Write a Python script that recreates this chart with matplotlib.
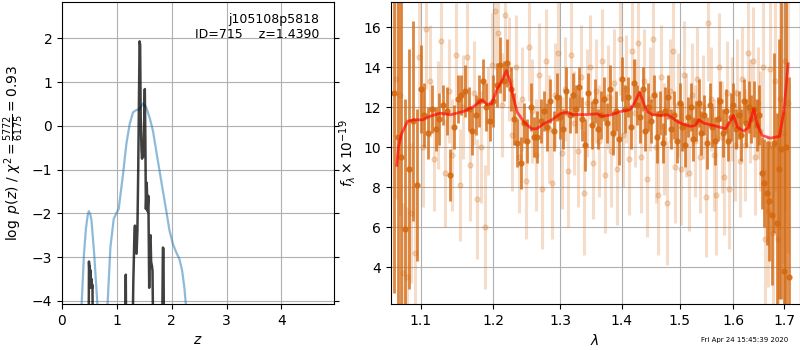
import matplotlib
matplotlib.use('Agg')
import matplotlib.pyplot as plt
from matplotlib.ticker import NullLocator, FixedLocator, FixedFormatter

# --- p(z) panel data ---
# blue curve (two pieces)
blue_z1 = [0.357, 0.40, 0.436, 0.47, 0.49, 0.515, 0.538, 0.587, 0.647]
blue_p1 = [-4.10, -2.95, -2.35, -2.03, -1.95, -2.02, -2.16, -2.93, -4.10]
blue_z2 = [0.83, 0.883, 0.944, 0.99, 1.034, 1.113, 1.174, 1.234, 1.295, 1.355,
           1.416, 1.476, 1.537, 1.597, 1.658, 1.718, 1.779, 1.839, 1.90, 1.96,
           2.02, 2.08, 2.14, 2.19, 2.23, 2.26]
blue_p2 = [-4.10, -2.77, -2.12, -2.0, -1.90, -1.10, -0.41, 0.04, 0.31, 0.36,
           0.38, 0.51, 0.42, 0.19, -0.11, -0.57, -1.03, -1.48, -1.93, -2.39,
           -2.69, -2.88, -3.04, -3.30, -3.68, -4.10]

# black curve, log p(z), spiky
pz_z = [0.485, 0.492, 0.500, 0.505, 0.515, 0.520, 0.530, 0.540, 0.550, 0.556, 0.562,
        1.155, 1.163, 1.171,
        1.285, 1.300, 1.320, 1.330, 1.345, 1.360, 1.375, 1.390, 1.405, 1.415, 1.425,
        1.435, 1.450, 1.460, 1.470, 1.485, 1.500, 1.510, 1.520, 1.530, 1.545, 1.560,
        1.575, 1.590, 1.600, 1.615, 1.625, 1.640, 1.650, 1.665,
        1.825, 1.840, 1.850, 1.860]
pz_p = [-5.0, -3.10, -3.35, -3.20, -3.50, -3.30, -3.70, -3.50, -3.70, -3.64, -5.0,
        -5.0, -3.40, -5.0,
        -5.0, -3.60, -2.50, -2.28, -2.90, -2.92, -2.40, -1.00, 0.80, 1.93, 1.85,
        0.20, -0.55, -0.75, -0.45, -0.70, 0.20, 0.84, -0.30, -1.90, -1.30, -1.95,
        -1.60, -3.70, -2.60, -2.50, -3.10, -3.20, -3.30, -5.0,
        -5.0, -2.78, -2.80, -5.0]

# --- spectrum panel data ---
# dark orange points
wave_a = [1.065, 1.070, 1.075, 1.080, 1.085, 1.090, 1.095, 1.100, 1.105, 1.110,
          1.115, 1.120, 1.125, 1.130, 1.135, 1.140, 1.145, 1.150, 1.155, 1.160,
          1.165, 1.170, 1.175, 1.180, 1.185, 1.190, 1.195, 1.200, 1.205, 1.210,
          1.215, 1.220, 1.225, 1.230, 1.235, 1.240, 1.245, 1.250, 1.255, 1.260,
          1.265, 1.270, 1.275, 1.280, 1.285, 1.290, 1.295, 1.300, 1.305, 1.310,
          1.315, 1.320, 1.325, 1.330, 1.335, 1.340, 1.345, 1.350, 1.355, 1.360,
          1.365, 1.370, 1.375, 1.380, 1.385, 1.390, 1.395, 1.400, 1.405, 1.410,
          1.415, 1.420, 1.425, 1.430, 1.435, 1.440, 1.445, 1.450, 1.455, 1.460,
          1.465, 1.470, 1.475, 1.480, 1.485, 1.490, 1.495, 1.500, 1.505, 1.510,
          1.515, 1.520, 1.525, 1.530, 1.535, 1.540, 1.545, 1.550, 1.555, 1.560,
          1.565, 1.570, 1.575, 1.580, 1.585, 1.590, 1.595, 1.600, 1.605, 1.610,
          1.615, 1.620, 1.625, 1.630, 1.635, 1.640, 1.645, 1.650, 1.655, 1.660,
          1.665, 1.670, 1.675, 1.680, 1.685, 1.690, 1.695, 1.700, 1.705, 1.710]
flux_a = [12.7, 10.5, 9.5, 5.9, 8.9, 11.3, 8.1, 12.9, 11.6, 10.7,
          11.9, 10.9, 11.4, 12.1, 11.8, 8.6, 11.0, 12.4, 12.6, 12.8,
          11.9, 10.8, 11.6, 12.3, 13.3, 12.0, 11.3, 12.3, 13.1, 14.1,
          13.3, 14.2, 12.9, 11.4, 10.2, 9.2, 11.2, 10.3, 12.0, 10.5,
          10.5, 11.3, 11.8, 11.0, 12.3, 10.8, 12.5, 11.5, 10.9, 12.8,
          11.6, 12.6, 11.9, 13.0, 11.4, 10.1, 12.7, 11.1, 12.3, 10.9,
          11.6, 12.4, 11.2, 12.9, 10.7, 11.8, 10.4, 13.4, 11.9, 12.5,
          11.0, 13.2, 12.1, 11.5, 12.9, 10.8, 12.0, 11.3, 12.6, 10.5,
          11.7, 10.2, 11.8, 12.5, 10.9, 11.6, 10.3, 12.2, 11.0, 10.1,
          11.5, 12.0, 10.4, 11.3, 12.2, 10.7, 11.6, 10.2, 12.1, 11.0,
          10.3, 11.4, 12.3, 10.7, 11.8, 10.3, 11.5, 12.1, 10.9, 11.6,
          10.6, 12.3, 11.2, 12.0, 11.4, 11.9, 11.1, 11.6, 8.7, 8.2,
          7.7, 7.3, 6.6, 10.2, 6.2, 8.9, 9.9, 3.8, 10.0, 3.5]
err_a = [10.0, 9.0, 8.0, 6.5, 6.0, 5.0, 3.8, 2.2, 1.6, 1.3,
         1.2, 1.1, 1.3, 1.0, 1.2, 1.3, 1.1, 1.2, 1.0, 1.3,
         1.1, 1.2, 1.0, 1.3, 1.1, 1.2, 1.0, 1.3, 1.1, 1.4,
         1.0, 1.2, 1.1, 1.3, 1.2, 1.3, 1.0, 1.1, 1.2, 1.0,
         1.3, 1.1, 1.0, 1.2, 1.1, 1.0, 1.2, 1.1, 1.0, 1.2,
         0.9, 1.1, 1.2, 1.0, 1.1, 1.3, 1.0, 1.2, 1.1, 1.0,
         1.2, 1.1, 1.0, 1.2, 1.1, 1.0, 1.3, 1.1, 1.2, 1.0,
         1.1, 1.2, 1.0, 1.3, 1.1, 1.0, 1.2, 1.1, 1.0, 1.3,
         1.1, 1.0, 1.2, 1.1, 1.0, 1.2, 1.1, 1.0, 1.2, 1.1,
         1.0, 1.2, 1.1, 1.0, 1.2, 1.1, 1.0, 1.3, 1.1, 1.0,
         1.2, 1.1, 1.0, 1.2, 1.1, 1.0, 1.2, 1.1, 1.0, 1.2,
         1.3, 1.1, 1.2, 1.3, 1.2, 1.4, 1.3, 1.5, 1.8, 2.2,
         2.6, 3.0, 3.5, 4.5, 5.5, 6.5, 7.5, 8.0, 9.0, 10.0]

# light orange points
wave_b = [1.0675, 1.0725, 1.0775, 1.0825, 1.0875, 1.0925, 1.0975, 1.1025, 1.1075, 1.1125,
          1.1175, 1.1225, 1.1275, 1.1325, 1.1375, 1.1425, 1.1475, 1.1525, 1.1575, 1.1625,
          1.1675, 1.1725, 1.1775, 1.1825, 1.1875, 1.1925, 1.1975, 1.2025, 1.2075, 1.2125,
          1.2175, 1.2225, 1.2275, 1.2325, 1.2375, 1.2425, 1.2475, 1.2525, 1.2575, 1.2625,
          1.2675, 1.2725, 1.2775, 1.2825, 1.2875, 1.2925, 1.2975, 1.3025, 1.3075, 1.3125,
          1.3175, 1.3225, 1.3275, 1.3325, 1.3375, 1.3425, 1.3475, 1.3525, 1.3575, 1.3625,
          1.3675, 1.3725, 1.3775, 1.3825, 1.3875, 1.3925, 1.3975, 1.4025, 1.4075, 1.4125,
          1.4175, 1.4225, 1.4275, 1.4325, 1.4375, 1.4425, 1.4475, 1.4525, 1.4575, 1.4625,
          1.4675, 1.4725, 1.4775, 1.4825, 1.4875, 1.4925, 1.4975, 1.5025, 1.5075, 1.5125,
          1.5175, 1.5225, 1.5275, 1.5325, 1.5375, 1.5425, 1.5475, 1.5525, 1.5575, 1.5625,
          1.5675, 1.5725, 1.5775, 1.5825, 1.5875, 1.5925, 1.5975, 1.6025, 1.6075, 1.6125,
          1.6175, 1.6225, 1.6275, 1.6325, 1.6375, 1.6425, 1.6475, 1.6525, 1.6575, 1.6625,
          1.6675, 1.6725, 1.6775, 1.6825, 1.6875, 1.6925, 1.6975, 1.7025, 1.7075]
flux_b = [13.4, 12.6, 3.7, 3.5, 6.7, 4.7, 14.5, 10.0, 15.9, 13.3,
          9.4, 11.6, 15.3, 8.7, 12.8, 9.6, 14.6, 8.1, 12.0, 14.5,
          9.1, 12.7, 7.4, 10.0, 6.0, 11.3, 14.1, 16.8, 15.7, 12.1,
          16.6, 13.9, 10.6, 14.0, 9.5, 12.4, 8.3, 15.0, 11.8, 9.6,
          13.6, 7.9, 14.3, 10.9, 8.2, 12.6, 14.7, 9.7, 12.9, 8.8,
          14.6, 11.2, 9.8, 13.5, 7.7, 12.2, 14.0, 9.2, 12.8, 10.3,
          14.3, 8.6, 12.5, 9.8, 13.2, 8.9, 15.4, 10.6, 12.9, 9.4,
          14.8, 11.7, 15.2, 9.5, 13.3, 8.4, 12.4, 15.4, 10.0, 7.6,
          13.5, 10.4, 7.2, 12.8, 14.8, 9.0, 12.1, 8.9, 13.6, 11.1,
          8.7, 12.6, 10.3, 13.4, 9.5, 12.0, 7.5, 16.2, 12.4, 9.6,
          7.6, 14.0, 10.5, 8.5, 12.7, 7.9, 11.9, 10.1, 12.7, 9.3,
          13.4, 10.1, 14.7, 11.8, 14.3, 9.5, 12.2, 10.8, 14.0, 5.4,
          6.8, 13.9, 5.7, 13.3, 5.4, 12.4, 10.7, 14.3, 12.2]
err_b = [6.0, 6.0, 3.5, 3.5, 3.5, 3.5, 3.0, 3.0, 3.0, 2.8,
         2.6, 2.7, 2.6, 2.7, 2.6, 2.8, 2.6, 2.8, 2.6, 2.7,
         2.8, 2.6, 3.0, 2.8, 3.1, 2.7, 2.6, 2.9, 2.7, 2.6,
         2.8, 2.6, 2.8, 2.6, 2.8, 2.6, 2.9, 2.7, 2.6, 2.8,
         2.6, 3.0, 2.6, 2.7, 2.8, 2.6, 2.7, 2.8, 2.6, 2.8,
         2.7, 2.6, 2.8, 2.6, 3.1, 2.7, 2.6, 2.8, 2.6, 2.8,
         2.6, 2.9, 2.6, 2.8, 2.7, 2.8, 2.8, 2.6, 2.7, 2.8,
         2.6, 2.7, 2.8, 2.8, 2.6, 2.9, 2.6, 2.8, 2.8, 3.0,
         2.6, 2.8, 3.1, 2.6, 2.7, 2.8, 2.6, 2.8, 2.7, 2.6,
         2.9, 2.6, 2.8, 2.6, 2.8, 2.6, 3.0, 2.9, 2.6, 2.8,
         3.0, 2.7, 2.8, 2.9, 2.6, 3.0, 2.6, 2.8, 2.7, 2.8,
         2.6, 2.8, 2.8, 2.6, 2.7, 2.9, 2.8, 3.0, 3.5, 3.5,
         3.8, 4.0, 4.5, 5.5, 5.5, 6.5, 6.5, 7.5, 7.5]

# red model line
model_wave = [1.069, 1.071, 1.075, 1.083, 1.092, 1.103, 1.112, 1.126, 1.140, 1.159,
              1.172, 1.184, 1.191, 1.198, 1.205, 1.2125, 1.219, 1.224, 1.229, 1.235,
              1.245, 1.2565, 1.264, 1.275, 1.2875, 1.300, 1.311, 1.320, 1.343, 1.359,
              1.367, 1.383, 1.399, 1.4135, 1.422, 1.430, 1.4355, 1.4415, 1.4515, 1.466,
              1.479, 1.489, 1.501, 1.520, 1.529, 1.535, 1.5445, 1.569, 1.585, 1.594,
              1.600, 1.608, 1.620, 1.630, 1.6395, 1.6461, 1.656, 1.672, 1.691, 1.700,
              1.7085]
model_flux = [9.10, 10.0, 10.68, 11.31, 11.38, 11.38, 11.55, 11.71, 11.63, 11.81,
              12.04, 12.38, 12.14, 12.18, 12.87, 13.34, 13.84, 13.34, 12.51, 11.76,
              11.26, 10.93, 10.93, 11.18, 11.38, 11.68, 11.76, 11.64, 11.64, 11.68,
              11.55, 11.64, 11.80, 11.88, 12.26, 12.76, 12.34, 11.84, 11.64, 11.59,
              11.63, 11.43, 11.21, 11.05, 11.10, 11.38, 11.21, 11.05, 10.93, 11.31,
              11.60, 11.01, 10.81, 11.01, 11.93, 11.18, 10.60, 10.46, 10.55, 11.84,
              14.17]

wave_ticks = [1.1, 1.2, 1.3, 1.4, 1.5, 1.6, 1.7]
wave_labels = ['1.1', '1.2', '1.3', '1.4', '1.5', '1.6', '1.7']

orange = '#d4680f'

# figura 800x350
fig = plt.figure(figsize=(8, 3.5), dpi=100)
ax1 = fig.add_axes([0.0775, 0.1314, 0.340, 0.863])
ax2 = fig.add_axes([0.4882, 0.1314, 0.5112, 0.863])

# pannello p(z)
ax1.plot(blue_z1, blue_p1, color='tab:blue', alpha=0.5, lw=1.6)
ax1.plot(blue_z2, blue_p2, color='tab:blue', alpha=0.5, lw=1.6)
ax1.plot(pz_z, pz_p, color='k', alpha=0.75, lw=1.8)
ax1.set_xlim(0, 4.96)
ax1.set_ylim(-4.07, 2.83)
ax1.set_xticks([0, 1, 2, 3, 4])
ax1.set_yticks([-4, -3, -2, -1, 0, 1, 2])
ax1.tick_params(right=True)
ax1.grid(True)
ax1.set_xlabel(r'$z$')
ax1.set_ylabel(r'$\log\ p(z)$ / $\chi^2=\frac{5772}{6175}=0.93$')
ax1.text(0.945, 0.965, 'j105108p5818\nID=715    z=1.4390', transform=ax1.transAxes,
         ha='right', va='top', ma='right', fontsize=9)

# pannello spettro
ax2.errorbar(wave_b, flux_b, yerr=err_b, marker='o', ms=3.5, ls='none',
             color=orange, alpha=0.22, elinewidth=2.2)
ax2.errorbar(wave_a, flux_a, yerr=err_a, marker='o', ms=3.5, ls='none',
             color=orange, alpha=0.8, elinewidth=2.0)
ax2.plot(model_wave, model_flux, color='r', alpha=0.65, lw=2, zorder=5)
ax2.set_xscale('log')
ax2.xaxis.set_major_locator(FixedLocator(wave_ticks))
ax2.xaxis.set_major_formatter(FixedFormatter(wave_labels))
ax2.xaxis.set_minor_locator(NullLocator())
ax2.set_xlim(1.061, 1.732)
ax2.set_ylim(2.17, 17.27)
ax2.set_yticks([4, 6, 8, 10, 12, 14, 16])
ax2.grid(True)
ax2.set_xlabel(r'$\lambda$')
ax2.set_ylabel(r'$f_\lambda\times10^{-19}$')

fig.text(0.985, 0.022, 'Fri Apr 24 15:45:39 2020', ha='right', fontsize=5)

fig.savefig('out.png', dpi=100)
